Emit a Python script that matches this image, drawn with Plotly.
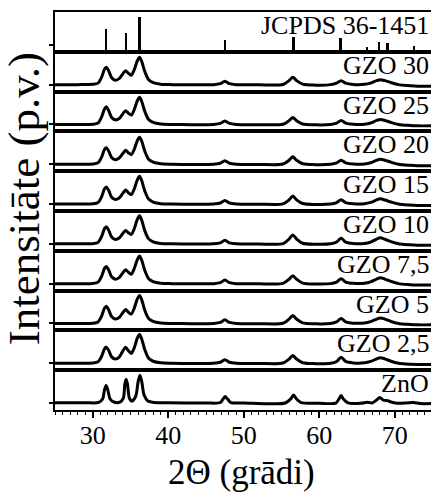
import plotly.graph_objects as go
from plotly.subplots import make_subplots

panel_labels = ["JCPDS 36-1451", "GZO 30", "GZO 25", "GZO 20", "GZO 15",
                "GZO 10", "GZO 7,5", "GZO 5", "GZO 2,5", "ZnO"]

x_tick_values = [30, 40, 50, 60, 70]

jcpds_2theta = [31.77, 34.42, 36.25, 47.54, 56.60, 62.86, 66.38, 67.96, 69.10, 72.56]
jcpds_intensity = [22.7, 18.7, 35.3, 12.0, 15.0, 13.7, 5.3, 10.3, 8.7, 6.0]

two_theta_gzo = [25, 28, 30, 30.7, 31.2, 31.55, 31.8, 32.1, 32.5, 33.0,
                 33.5, 34.0, 34.35, 34.7, 35.1, 35.5, 35.9, 36.2, 36.5, 36.9,
                 37.4, 38.0, 39.0, 40.5, 43, 46, 46.9, 47.5, 48.1, 49,
                 52, 55.2, 56.0, 56.5, 57.0, 57.8, 59.5, 61.5, 62.3, 62.9,
                 63.5, 64.5, 66.0, 66.8, 67.6, 68.1, 68.7, 69.5, 70.5, 72.0,
                 73, 75]

gzo_30 = [7.0, 7.0, 7.3, 8.5, 15, 22.5, 24.5, 21, 14, 11.5,
          13, 18, 21, 18.5, 16.5, 22, 31, 34.5, 30, 20,
          12, 9, 7.5, 7, 6.8, 7, 8, 10.5, 8, 7,
          6.8, 7.2, 11, 14.5, 11, 7.5, 6.5, 7, 8.5, 11,
          8.5, 7.2, 7.3, 8.5, 11, 12, 11, 9, 7, 6,
          5.5, 5.5]
gzo_25 = [7.0, 7.0, 7.2, 8.4, 15, 22.6, 24.8, 21, 14, 11.6,
          13, 17.8, 20.8, 18.4, 16.4, 22, 30.8, 34.2, 29.8, 20,
          12, 9, 7.4, 7, 6.8, 7, 8, 10.4, 8, 7,
          6.8, 7.2, 10.8, 14, 10.8, 7.5, 6.6, 7, 8.4, 11,
          8.4, 7.2, 7.3, 8.5, 11, 12, 11, 9, 7, 6,
          5.6, 5.6]
gzo_20 = [7.0, 7.0, 7.2, 8.4, 14.6, 21.8, 23.5, 20.4, 13.8, 11.6,
          13.2, 18, 21, 18.6, 16.6, 22, 30.8, 34.2, 29.8, 20,
          12, 9, 7.4, 7, 6.8, 7, 8, 10.4, 8, 7,
          6.8, 7.2, 11, 14.5, 11, 7.5, 6.6, 7, 8.4, 11,
          8.4, 7.2, 7.3, 8.5, 11, 12, 11, 9, 7, 6,
          5.6, 5.6]
gzo_15 = [7.0, 7.0, 7.2, 8.5, 14.8, 22.3, 24.2, 20.8, 13.9, 11.5,
          13, 18, 21, 18.5, 16.5, 22.2, 31.2, 34.8, 30.2, 20,
          12, 9, 7.4, 7, 6.8, 7, 8, 10.5, 8, 7,
          6.8, 7.2, 11.2, 15, 11.2, 7.5, 6.6, 7, 8.5, 11.2,
          8.5, 7.2, 7.3, 8.6, 11.2, 12.2, 11, 9, 7, 6,
          5.6, 5.6]
gzo_10 = [7.0, 7.0, 7.2, 8.5, 14.8, 22.3, 24.2, 20.8, 13.9, 11.4,
          12.8, 17.6, 20.5, 18.2, 16.4, 22.2, 31.6, 35.2, 30.4, 20,
          12, 9, 7.4, 7, 6.8, 7, 8, 10.6, 8, 7,
          6.8, 7.2, 11.8, 16, 11.8, 7.6, 6.6, 7, 8.8, 12.5,
          8.8, 7.3, 7.4, 8.8, 11.8, 13, 11.6, 9.2, 7, 6,
          5.6, 5.6]
gzo_7_5 = [7.0, 7.0, 7.2, 8.5, 14.8, 22.3, 24.2, 20.8, 13.9, 11.5,
           13, 18, 21, 18.5, 16.5, 22.2, 31.2, 34.8, 30.2, 20,
           12, 9, 7.4, 7, 6.8, 7, 8, 10.6, 8, 7,
           6.8, 7.2, 11.4, 15, 11.4, 7.5, 6.6, 7, 8.6, 12,
           8.6, 7.3, 7.4, 8.8, 11.6, 13, 11.6, 9.2, 7, 6,
           5.6, 5.6]
gzo_5 = [7.0, 7.0, 7.2, 8.5, 14.8, 22.3, 24.2, 20.8, 13.9, 11.4,
         12.9, 18, 21, 18.4, 16.4, 22.4, 31.6, 35.2, 30.4, 20,
         12, 9, 7.4, 7, 6.8, 7, 8, 10.6, 8, 7,
         6.8, 7.2, 11.4, 15, 11.4, 7.5, 6.6, 7, 8.6, 12,
         8.6, 7.3, 7.4, 8.8, 11.4, 12.5, 11.4, 9, 7, 6,
         5.6, 5.6]
gzo_2_5 = [7.0, 7.0, 7.2, 8.4, 14.4, 21.4, 23.2, 20, 13.4, 11.2,
           13.2, 19.4, 23, 19.8, 16.8, 22.6, 32.2, 35.8, 31, 20.4,
           12, 9, 7.4, 7, 6.8, 7, 8, 10.6, 8, 7,
           6.8, 7.2, 11.2, 14.8, 11.2, 7.5, 6.6, 7, 8.8, 13,
           8.8, 7.3, 7.4, 8.8, 11.4, 12.5, 11.4, 9, 7, 6,
           5.8, 5.8]

two_theta_zno = [25, 29, 30.8, 31.3, 31.55, 31.77, 32.0, 32.3, 32.8, 33.6,
                 34.05, 34.25, 34.42, 34.6, 34.85, 35.2, 35.7, 36.0, 36.25, 36.5,
                 36.8, 37.3, 38.2, 40, 45, 46.9, 47.25, 47.55, 47.85, 48.3,
                 50, 55.5, 56.2, 56.6, 57.0, 57.6, 60, 62.2, 62.6, 62.9,
                 63.2, 63.8, 65.5, 66.4, 67.0, 67.6, 68.0, 68.5, 69.1, 69.5,
                 70.3, 72.5, 73.3, 75]
zno = [7.3, 7.3, 7.6, 11, 20, 24.5, 20, 11, 8, 8,
       12, 26, 31, 26, 12, 9, 14, 28, 35, 28,
       15, 9, 7.5, 7.2, 7.0, 7.5, 11, 13.5, 11, 7.5,
       7.0, 7.0, 11, 15, 11, 7.5, 6.8, 7.0, 11, 14.5,
       11, 7.2, 6.8, 7.8, 7.0, 10, 12.5, 10, 9.3, 8,
       6.8, 7.5, 6.5, 6.5]

gzo_series = [gzo_30, gzo_25, gzo_20, gzo_15, gzo_10, gzo_7_5, gzo_5, gzo_2_5]

FONT = "Liberation Serif, Times New Roman, serif"
N = 10
fig = make_subplots(rows=N, cols=1, shared_xaxes=True, vertical_spacing=0)

fig.add_trace(go.Bar(x=jcpds_2theta, y=jcpds_intensity, width=0.26,
                     marker=dict(color="black", line=dict(width=0)),
                     showlegend=False), row=1, col=1)
line_style = dict(color="black", width=3, shape="spline", smoothing=0.8)
for i, ser in enumerate(gzo_series):
    fig.add_trace(go.Scatter(x=two_theta_gzo, y=ser, mode="lines", line=line_style,
                             showlegend=False), row=i + 2, col=1)
fig.add_trace(go.Scatter(x=two_theta_zno, y=zno, mode="lines", line=line_style,
                         showlegend=False), row=10, col=1)

for r in range(1, N + 1):
    xa = dict(range=[25, 74.8], showline=True, mirror=True, linecolor="black",
              linewidth=1.5, showgrid=False, zeroline=False)
    if r == N:
        xa.update(ticks="outside", ticklen=6, tickwidth=1.5, tickcolor="black",
                  tickvals=x_tick_values, showticklabels=True,
                  ticklabelstandoff=-5,
                  tickfont=dict(family=FONT, size=26, color="black"),
                  minor=dict(ticks="outside", ticklen=3, tickwidth=1,
                             tickcolor="black", dtick=1, tick0=25))
    else:
        xa.update(ticks="")
    fig.update_xaxes(row=r, col=1, **xa)
    fig.update_yaxes(row=r, col=1, range=[0, 40], showline=True, mirror=False,
                     linecolor="black", linewidth=1.5, showgrid=False,
                     zeroline=False, showticklabels=False,
                     tickvals=[7], ticks="outside", ticklen=4, tickwidth=1.5,
                     tickcolor="black")

annotations = []
for i, lab in enumerate(panel_labels):
    yref = "y domain" if i == 0 else f"y{i + 1} domain"
    annotations.append(dict(text=lab, xref="paper", yref=yref, x=1.0, y=1.0,
                            xanchor="right", yanchor="top", yshift=3,
                            showarrow=False,
                            font=dict(family=FONT, size=26, color="black")))
annotations.append(dict(text="Intensitāte (p.v.)", xref="paper", yref="paper",
                        x=-0.082, y=0.53, xanchor="center", yanchor="middle",
                        textangle=-90, showarrow=False,
                        font=dict(family=FONT, size=45, color="black")))
annotations.append(dict(text="2Θ (grādi)", xref="paper", yref="paper",
                        x=0.497, y=-0.158, xanchor="center", yanchor="middle",
                        showarrow=False,
                        font=dict(family=FONT, size=35, color="black")))

fig.update_layout(width=431, height=492, margin=dict(l=55, r=0, t=12, b=82),
                  paper_bgcolor="white", plot_bgcolor="white",
                  annotations=annotations, bargap=0, showlegend=False)

fig.write_html("out.html", config={"displayModeBar": False},
               post_script="document.body.style.margin='0';"
                           "document.body.style.overflow='hidden';")
